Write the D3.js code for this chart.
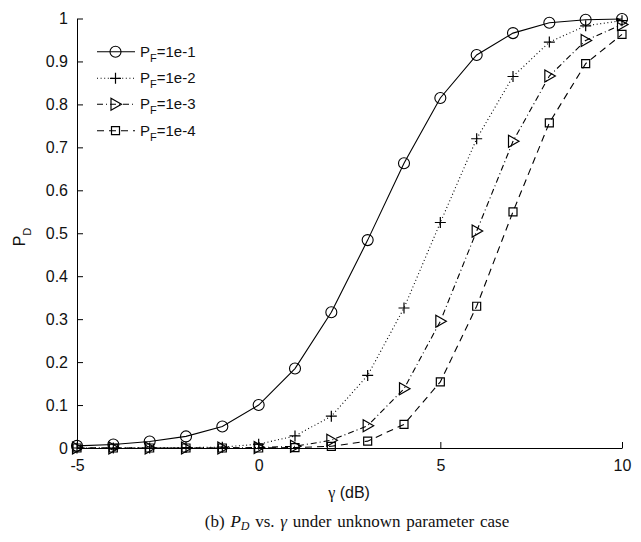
<!DOCTYPE html>
<html>
<head>
<meta charset="utf-8">
<script src="https://cdn.jsdelivr.net/npm/d3@7"></script>
<style>
  body { margin: 0; background: #fff; }
  svg { display: block; }
  .axis text { font-family: "Liberation Sans", Arial, sans-serif; font-size: 16px; fill: #111; }
  .axis path, .axis line { stroke: #000; stroke-width: 1; }
</style>
</head>
<body>
<div id="chart"></div>
<script>
// gamma in dB
const gammaDb = [-5, -4, -3, -2, -1, 0, 1, 2, 3, 4, 5, 6, 7, 8, 9, 10];

// detection probability
const pd1e1 = [0.005, 0.008, 0.015, 0.027, 0.05, 0.1, 0.185, 0.316, 0.484, 0.663, 0.815, 0.915, 0.966, 0.99, 0.997, 0.999];
const pd1e2 = [0.0, 0.0, 0.0, 0.001, 0.002, 0.009, 0.028, 0.074, 0.169, 0.326, 0.525, 0.72, 0.865, 0.945, 0.983, 0.995];
const pd1e3 = [0.0, 0.0, 0.0, 0.0, 0.0, 0.001, 0.004, 0.018, 0.052, 0.138, 0.295, 0.505, 0.714, 0.866, 0.949, 0.986];
const pd1e4 = [0.0, 0.0, 0.0, 0.0, 0.0, 0.0, 0.001, 0.004, 0.016, 0.055, 0.154, 0.33, 0.55, 0.757, 0.895, 0.963];

const seriesNames = ["1e-1", "1e-2", "1e-3", "1e-4"];
const xTicks = [-5, 0, 5, 10];
const yTicks = [0, 0.1, 0.2, 0.3, 0.4, 0.5, 0.6, 0.7, 0.8, 0.9, 1];

const series = [
  { name: seriesNames[0], values: pd1e1, dash: null, marker: "circle" },
  { name: seriesNames[1], values: pd1e2, dash: "1,2.6", marker: "plus" },
  { name: seriesNames[2], values: pd1e3, dash: "6,3,1,3", marker: "triangle" },
  { name: seriesNames[3], values: pd1e4, dash: "7,5", marker: "square" }
];

const W = 641, H = 542;
const margin = { top: 18.5, right: 19, bottom: 94, left: 77 };
const width = W - margin.left - margin.right;
const height = H - margin.top - margin.bottom;

const svg = d3.select("#chart").append("svg")
  .attr("width", W)
  .attr("height", H);

const g = svg.append("g")
  .attr("transform", "translate(" + margin.left + "," + margin.top + ")");

const x = d3.scaleLinear().domain([-5, 10]).range([0, width]);
const y = d3.scaleLinear().domain([0, 1]).range([height, 0]);

// axes, ticks pointing inward
g.append("g")
  .attr("class", "axis")
  .call(d3.axisLeft(y).tickValues(yTicks).tickFormat(d3.format("~g"))
    .tickSizeInner(-6).tickSizeOuter(0).tickPadding(9));

g.append("g")
  .attr("class", "axis")
  .attr("transform", "translate(0," + height + ")")
  .call(d3.axisBottom(x).tickValues(xTicks).tickFormat(d => String(d))
    .tickSizeInner(-6).tickSizeOuter(0).tickPadding(12));

// marker drawing
function markerPath(type, cx, cy) {
  if (type === "plus") {
    return "M" + (cx - 5.5) + "," + cy + "H" + (cx + 5.5) + "M" + cx + "," + (cy - 5.5) + "V" + (cy + 5.5);
  } else if (type === "triangle") {
    return "M" + (cx - 4.5) + "," + (cy - 6) + "L" + (cx + 6) + "," + cy + "L" + (cx - 4.5) + "," + (cy + 6) + "Z";
  } else {
    return "M" + (cx - 4) + "," + (cy - 4) + "h8v8h-8Z";
  }
}

function drawMarker(sel, type, cx, cy) {
  if (type === "circle") {
    sel.append("circle")
      .attr("cx", cx).attr("cy", cy).attr("r", 5.5)
      .attr("fill", "none").attr("stroke", "#000").attr("stroke-width", 1.1);
  } else {
    sel.append("path")
      .attr("d", markerPath(type, cx, cy))
      .attr("fill", "none").attr("stroke", "#000").attr("stroke-width", 1.2);
  }
}

const line = d3.line()
  .x((d, i) => x(gammaDb[i]))
  .y(d => y(d));

series.forEach(s => {
  g.append("path")
    .datum(s.values)
    .attr("d", line)
    .attr("fill", "none")
    .attr("stroke", "#000")
    .attr("stroke-width", 1.1)
    .attr("stroke-dasharray", s.dash);

  const mg = g.append("g");
  s.values.forEach((v, i) => drawMarker(mg, s.marker, x(gammaDb[i]), y(v)));
});

// legend
const legend = svg.append("g");
const legRows = [51.7, 78.3, 104.3, 130.7];
series.forEach((s, i) => {
  const ly = legRows[i];
  legend.append("line")
    .attr("x1", 97).attr("x2", 135)
    .attr("y1", ly).attr("y2", ly)
    .attr("stroke", "#000").attr("stroke-width", 1.1)
    .attr("stroke-dasharray", s.dash);
  drawMarker(legend, s.marker, 115.5, ly);
  const t = legend.append("text")
    .attr("x", 140).attr("y", ly + 5)
    .attr("font-family", "Liberation Sans, Arial, sans-serif")
    .attr("font-size", 15)
    .attr("fill", "#111");
  t.append("tspan").text("P");
  t.append("tspan").attr("font-size", 11).attr("dy", 5).text("F");
  t.append("tspan").attr("dy", -5).text("=" + s.name);
});

// axis titles
const ylab = svg.append("text")
  .attr("transform", "translate(25,237) rotate(-90)")
  .attr("text-anchor", "middle")
  .attr("font-family", "Liberation Sans, Arial, sans-serif")
  .attr("font-size", 16)
  .attr("fill", "#111");
ylab.append("tspan").text("P");
ylab.append("tspan").attr("font-size", 11).attr("dy", 6).text("D");

const xlab = svg.append("text")
  .attr("x", 349).attr("y", 498)
  .attr("text-anchor", "middle")
  .attr("font-size", 16)
  .attr("fill", "#111");
xlab.append("tspan").attr("font-family", "Liberation Serif, Times New Roman, serif").attr("font-size", 16).text("\u03B3");
xlab.append("tspan").attr("font-family", "Liberation Sans, Arial, sans-serif").text(" (dB)");

// caption
const cap = svg.append("text")
  .attr("x", 357).attr("y", 527)
  .attr("text-anchor", "middle")
  .attr("font-family", "Liberation Serif, Times New Roman, serif")
  .attr("font-size", 17)
  .attr("word-spacing", 1.5)
  .attr("fill", "#111");
cap.append("tspan").text("(b)  ");
cap.append("tspan").attr("font-style", "italic").text("P");
cap.append("tspan").attr("font-style", "italic").attr("font-size", 12).attr("dy", 3).text("D");
cap.append("tspan").attr("dy", -3).text(" vs. ");
cap.append("tspan").attr("font-style", "italic").text("\u03B3");
cap.append("tspan").text(" under unknown parameter case");
</script>
</body>
</html>
